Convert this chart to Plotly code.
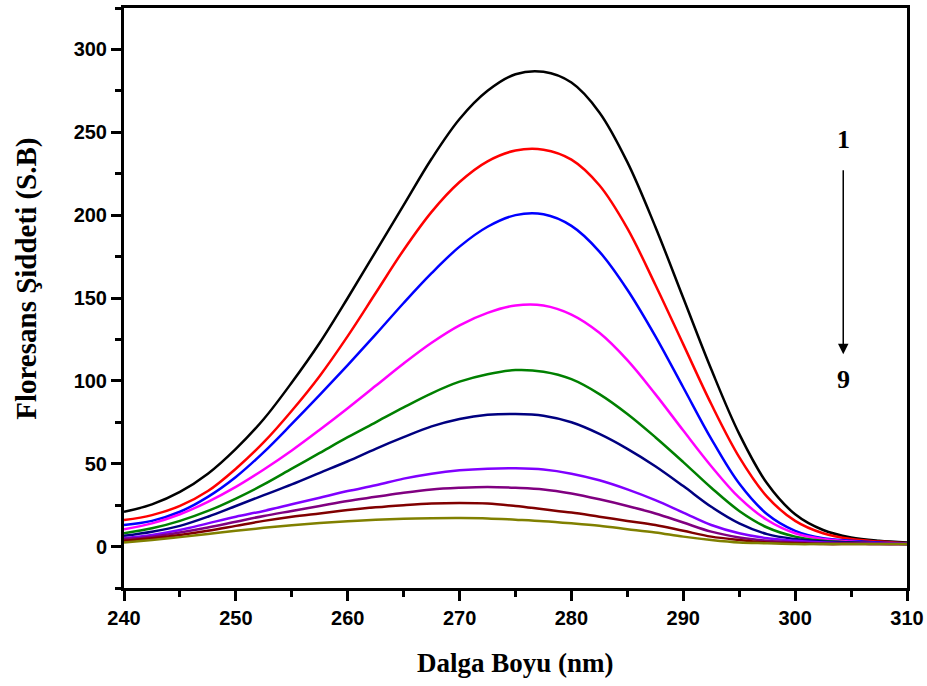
import plotly.graph_objects as go

wavelength = [240, 242.5, 245, 247.5, 250, 252.5, 255, 257.5, 260, 262.5, 265, 267.5, 270,
              272.5, 275, 277.5, 280, 282.5, 285, 287.5, 290, 292.5, 295, 297.5, 300,
              302.5, 305, 307.5, 310]

s1 = [21, 25.5, 33, 44, 59, 77, 99, 123, 150, 178, 206, 234, 258, 275, 285, 286.5, 280, 262,
      232, 193, 150, 107, 68, 38, 19.5, 10, 5.5, 3.5, 2.5]
s2 = [16, 19, 24.5, 33.5, 47, 63, 82, 103, 127, 153, 179, 202, 220, 232.5, 239, 239.5, 233.5,
      218, 192, 158, 122, 86, 54, 30, 15.5, 8, 4.5, 3, 2]
s3 = [13, 15.5, 21, 30, 42, 57, 74, 91.5, 109.5, 128, 147, 165, 181, 193, 200, 200.5, 193.5,
      178, 155, 127, 96, 65, 38, 19.5, 9.5, 5, 3.5, 2.5, 2]
s4 = [10.5, 14, 19.5, 27, 36, 46.5, 58, 70.5, 83.5, 97, 110.5, 123, 133.5, 141, 145.5, 145.5,
      140, 129, 112.5, 92, 70, 48.5, 29.5, 16, 8, 4.5, 3, 2, 1.5]
s5 = [8, 11, 15.5, 21.5, 29, 37.5, 47, 56.5, 66, 75, 84, 92.5, 99.5, 104, 106.5, 105.5, 101,
      92, 80, 66, 51, 35.5, 21.5, 11.5, 6, 3.5, 2.5, 2, 1.5]
s6 = [6.5, 9, 12.5, 18, 24.5, 31, 37.5, 44.5, 51.5, 59, 66, 72.5, 77, 79.5, 80, 79, 75, 68,
      59, 48.5, 36.5, 24, 14, 7.5, 4.5, 3, 2.5, 2, 1.5]
s7 = [5, 7, 10, 14, 18, 21.5, 25.5, 29.5, 33.5, 37, 41, 44, 46, 47, 47.2, 46.5, 44, 40,
      34.5, 28, 20.5, 13, 8, 5, 3.5, 2.5, 2, 2, 2]
s8 = [4.5, 6, 8.5, 11.5, 15, 18.5, 21.5, 24.5, 27.5, 30, 32.5, 34.5, 35.5, 36, 35.5, 34.5,
      32, 28.5, 24.5, 20, 14.5, 9, 5.5, 3.5, 2.5, 2, 2, 1.5, 1.5]
s9 = [3.5, 5, 7, 9.5, 12.5, 15.5, 18, 20, 22, 23.7, 25, 26, 26.3, 26, 24.5, 22.5, 20.5,
      18, 15.5, 13, 9.5, 6, 4, 2.5, 2, 1.5, 1.5, 1.5, 1.5]
s10 = [2.5, 4, 5.7, 7.6, 9.5, 11.3, 12.9, 14.2, 15.3, 16.2, 16.8, 17.1, 17.2, 17, 16.2, 15.3,
       14, 12.5, 10.5, 8.5, 6, 4, 2.5, 2, 1.5, 1.5, 1.5, 1.5, 1.5]

series = [s1, s2, s3, s4, s5, s6, s7, s8, s9, s10]
colors = ["#000000", "#FF0000", "#0000FF", "#FF00FF", "#008000", "#000080",
          "#8000FF", "#800080", "#800000", "#808000"]

x_ticks = [240, 250, 260, 270, 280, 290, 300, 310]
y_ticks = [0, 50, 100, 150, 200, 250, 300]

fig = go.Figure()
for vals, col in zip(series, colors):
    fig.add_trace(go.Scatter(x=wavelength, y=vals, mode="lines",
                             line=dict(color=col, width=2.5, shape="spline"),
                             showlegend=False, hoverinfo="skip"))

tickfont = dict(family="Liberation Sans, Arial, sans-serif", size=20, color="black", weight="bold")
serif = "Liberation Serif, Times New Roman, serif"

fig.update_xaxes(range=[240, 310], tickvals=x_ticks, ticktext=[str(v) for v in x_ticks],
                 ticks="outside", ticklen=10, tickwidth=3, tickcolor="black",
                 minor=dict(dtick=5, tick0=240, ticks="outside", ticklen=6, tickwidth=3, tickcolor="black"),
                 showline=True, linewidth=3, linecolor="black", mirror=True, automargin=False,
                 showgrid=False, zeroline=False, tickfont=tickfont)
fig.update_yaxes(range=[-25, 325], tickvals=y_ticks, ticktext=[str(v) for v in y_ticks],
                 ticks="outside", ticklen=10, tickwidth=3, tickcolor="black",
                 minor=dict(dtick=25, tick0=0, ticks="outside", ticklen=6, tickwidth=3, tickcolor="black"),
                 showline=True, linewidth=3, linecolor="black", mirror=True, automargin=False,
                 showgrid=False, zeroline=False, tickfont=tickfont)

fig.add_annotation(x=0.5, y=-0.129, xref="paper", yref="paper", text="Dalga Boyu (nm)",
                   showarrow=False, xanchor="center", yanchor="middle",
                   font=dict(family=serif, size=27, color="black", weight="bold"))
fig.add_annotation(x=-0.124, y=0.533, xref="paper", yref="paper", text="Floresans Şiddeti (S.B)",
                   showarrow=False, textangle=-90, xanchor="center", yanchor="middle",
                   font=dict(family=serif, size=29, color="black", weight="bold"))

fig.add_annotation(x=304.3, y=245.7, text="1", showarrow=False,
                   font=dict(family=serif, size=26, color="black", weight="bold"))
fig.add_annotation(x=304.3, y=101, text="9", showarrow=False,
                   font=dict(family=serif, size=26, color="black", weight="bold"))
fig.add_annotation(x=304.3, y=116, ax=304.3, ay=228, xref="x", yref="y", axref="x", ayref="y",
                   text="", showarrow=True, arrowhead=2, arrowsize=1.4, arrowwidth=1.5,
                   arrowcolor="black")

fig.update_layout(width=927, height=686, margin=dict(l=124, r=20, t=8, b=98),
                  plot_bgcolor="white", paper_bgcolor="white")

# remove the browser's default 8px body margin so the figure fills the window exactly
fig.write_html("out.html", config={"displayModeBar": False},
               post_script="document.body.style.margin='0';document.body.style.overflow='hidden';")
